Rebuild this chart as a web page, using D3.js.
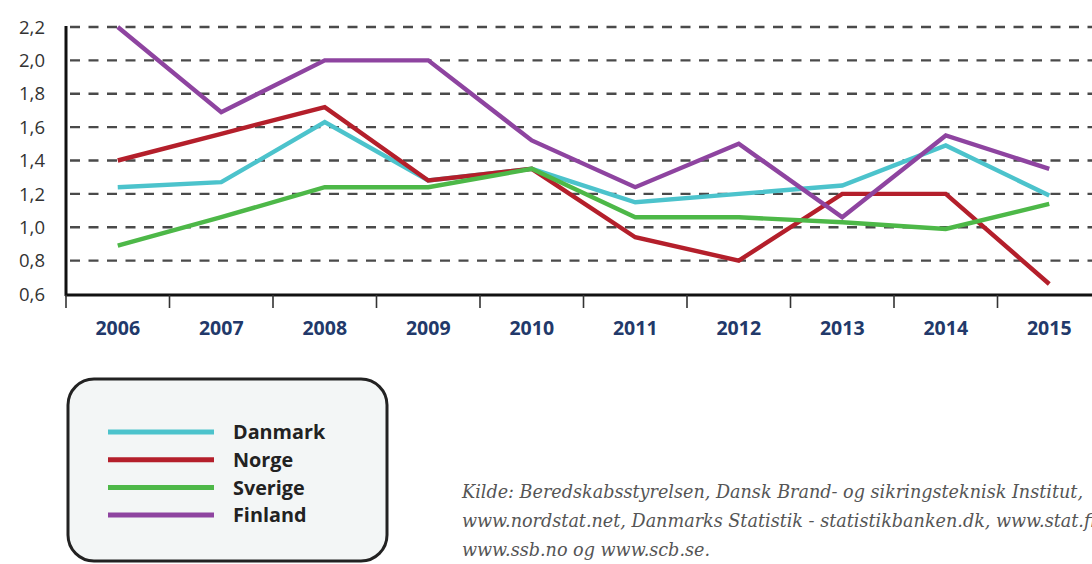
<!DOCTYPE html>
<html>
<head>
<meta charset="utf-8" />
<title>D3</title>
<script src="https://d3js.org/d3.v7.min.js"></script>
<style>
  body { margin: 0; background: #fff; }
</style>
</head>
<body>
<script>
var years = [2006, 2007, 2008, 2009, 2010, 2011, 2012, 2013, 2014, 2015];
var yTicks = [0.6, 0.8, 1.0, 1.2, 1.4, 1.6, 1.8, 2.0, 2.2];

var danmark = [1.24, 1.27, 1.63, 1.28, 1.35, 1.15, 1.20, 1.25, 1.49, 1.19];
var norge   = [1.40, 1.56, 1.72, 1.28, 1.35, 0.94, 0.80, 1.20, 1.20, 0.66];
var sverige = [0.89, 1.06, 1.24, 1.24, 1.35, 1.06, 1.06, 1.03, 0.99, 1.14];
var finland = [2.20, 1.69, 2.00, 2.00, 1.52, 1.24, 1.50, 1.06, 1.55, 1.35];

var seriesNames = ["Danmark", "Norge", "Sverige", "Finland"];
var seriesValues = [danmark, norge, sverige, finland];
var colors = ["#4cc3cc", "#b41f2b", "#4db848", "#8e44a0"];

var source = [
  "Kilde: Beredskabsstyrelsen, Dansk Brand- og sikringsteknisk Institut,",
  "www.nordstat.net, Danmarks Statistik - statistikbanken.dk, www.stat.fi,",
  "www.ssb.no og www.scb.se."
];

var W = 1092, H = 564;
var svg = d3.select("body").append("svg")
    .attr("width", W)
    .attr("height", H);

var x = d3.scaleBand()
    .domain(years)
    .range([66, 1101])
    .padding(0);

var y = d3.scaleLinear()
    .domain([0.6, 2.2])
    .range([294, 27]);

// dashed gridlines
svg.append("g")
  .selectAll("line")
  .data(yTicks.filter(function(d){ return d > 0.6; }))
  .enter()
  .append("line")
  .attr("x1", 66)
  .attr("x2", W)
  .attr("y1", function(d){ return y(d); })
  .attr("y2", function(d){ return y(d); })
  .attr("stroke", "#4a4a4a")
  .attr("stroke-width", 2.4)
  .attr("stroke-dasharray", "10,8.5")
  .attr("stroke-dashoffset", -4);

// y axis labels
svg.append("g")
  .selectAll("text")
  .data(yTicks)
  .enter()
  .append("text")
  .attr("x", 45)
  .attr("y", function(d){ return y(d); })
  .attr("dy", "0.36em")
  .attr("text-anchor", "end")
  .attr("font-family", "'Open Sans', sans-serif")
  .attr("font-size", 18.5)
  .attr("fill", "#333")
  .text(function(d){ return d3.format(".1f")(d).replace(".", ","); });

// axes lines
svg.append("line")
  .attr("x1", 66).attr("x2", 66)
  .attr("y1", 26).attr("y2", 296)
  .attr("stroke", "#111").attr("stroke-width", 3);
svg.append("line")
  .attr("x1", 65).attr("x2", W)
  .attr("y1", 295).attr("y2", 295)
  .attr("stroke", "#111").attr("stroke-width", 3);

// x ticks at band boundaries
svg.append("g")
  .selectAll("line")
  .data(years)
  .enter()
  .append("line")
  .attr("x1", function(d){ return x(d); })
  .attr("x2", function(d){ return x(d); })
  .attr("y1", 295)
  .attr("y2", 308)
  .attr("stroke", "#333")
  .attr("stroke-width", 1.6);

// x labels
svg.append("g")
  .selectAll("text")
  .data(years)
  .enter()
  .append("text")
  .attr("x", function(d){ return x(d) + x.bandwidth() / 2; })
  .attr("y", 335)
  .attr("text-anchor", "middle")
  .attr("font-family", "'Open Sans', sans-serif")
  .attr("font-weight", "bold")
  .attr("font-size", 19.5)
  .attr("fill", "#22396a")
  .text(function(d){ return d; });

// lines
var line = d3.line()
    .x(function(d, i){ return x(years[i]) + x.bandwidth() / 2; })
    .y(function(d){ return y(d); });

svg.append("g")
  .selectAll("path")
  .data(seriesValues)
  .enter()
  .append("path")
  .attr("d", line)
  .attr("fill", "none")
  .attr("stroke", function(d, i){ return colors[i]; })
  .attr("stroke-width", 4.4)
  .attr("stroke-linejoin", "miter");

// legend
var legend = svg.append("g");
legend.append("rect")
  .attr("x", 68).attr("y", 379)
  .attr("width", 319).attr("height", 182)
  .attr("rx", 26).attr("ry", 26)
  .attr("fill", "#f3f6f6")
  .attr("stroke", "#222")
  .attr("stroke-width", 3);

var items = legend.selectAll("g.item")
  .data(seriesNames)
  .enter()
  .append("g")
  .attr("transform", function(d, i){ return "translate(0," + (432 + i * 27.7) + ")"; });

items.append("line")
  .attr("x1", 108).attr("x2", 214)
  .attr("stroke", function(d, i){ return colors[i]; })
  .attr("stroke-width", 5);

items.append("text")
  .attr("x", 233)
  .attr("dy", "0.36em")
  .attr("font-family", "'Open Sans', sans-serif")
  .attr("font-weight", "bold")
  .attr("font-size", 19.8)
  .attr("fill", "#222")
  .text(function(d){ return d; });

// source text
svg.append("g")
  .selectAll("text")
  .data(source)
  .enter()
  .append("text")
  .attr("x", 462)
  .attr("y", function(d, i){ return 498 + i * 29; })
  .attr("font-family", "'DejaVu Serif', serif")
  .attr("font-style", "italic")
  .attr("font-size", 17.6)
  .attr("fill", "#555")
  .text(function(d){ return d; });
</script>
</body>
</html>
